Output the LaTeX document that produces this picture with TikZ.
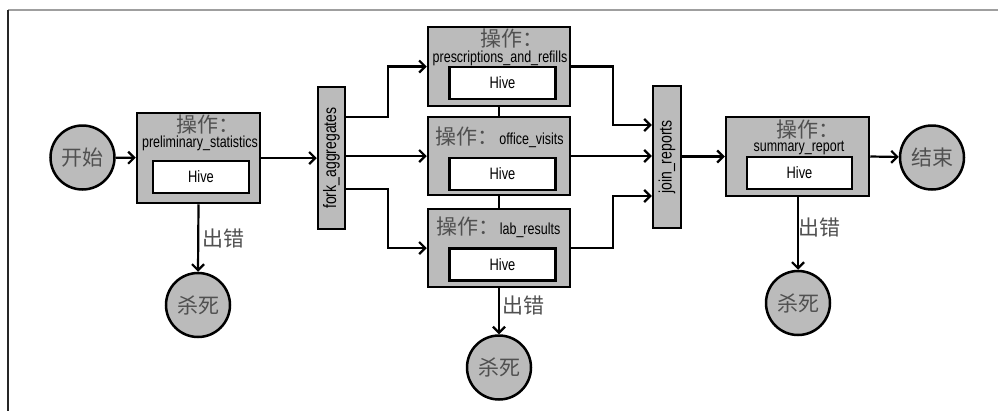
\documentclass[tikz,border=0pt]{standalone}
\usepackage{fontspec}
\setmainfont[FakeStretch=0.78]{Liberation Sans}
\newfontfamily\cjk[RawFeature=+halt]{Noto Sans CJK SC}
\newfontfamily\cjkfull{Noto Sans CJK SC}
\usetikzlibrary{arrows.meta}
\definecolor{boxgray}{HTML}{BBBBBB}
\definecolor{cjkgray}{HTML}{505050}
\newcommand{\cjkfont}{\cjk\fontsize{21bp}{23bp}\selectfont}
\newcommand{\cjkfullfont}{\cjkfull\fontsize{21bp}{23bp}\selectfont}
\newcommand{\namefont}{\fontsize{16bp}{18bp}\selectfont}
\tikzset{
  opbox/.style={draw, line width=2.5bp, fill=boxgray, inner sep=0pt},
  hivebox/.style={draw, line width=2.5bp, fill=white, inner sep=0pt, minimum width=106bp, minimum height=32bp, font=\fontsize{16.5bp}{18bp}\selectfont},
  bar/.style={draw, line width=2.5bp, fill=boxgray, inner sep=0pt, minimum width=27bp, minimum height=142bp},
  bartext/.style={rotate=90, inner sep=0pt, font=\fontsize{18bp}{20bp}\selectfont},
  ctrl/.style={circle, draw, line width=2.5bp, fill=boxgray, minimum size=64bp, inner sep=0pt, text=cjkgray, font=\cjk\fontsize{21bp}{23bp}\selectfont},
  cjklbl/.style={anchor=base, inner sep=0pt, text height=0.78em, text depth=0pt, text=cjkgray, font=\cjkfont},
  cjkinline/.style={cjklbl, font=\cjkfullfont},
  namelbl/.style={anchor=base, inner sep=0pt, text height=0.6em, text depth=0.2em, font=\namefont},
  errlbl/.style={inner sep=0pt, text=cjkgray, font=\cjkfont},
  arr/.style={line width=2.2bp, -{Straight Barb[length=6bp,width=12bp,line width=2.2bp]}},
  link/.style={line width=2.2bp}
}
\begin{document}
\begin{tikzpicture}[x=1bp,y=-1bp]
\useasboundingbox (0,0) rectangle (998,411);
\fill[white] (0,0) rectangle (998,411);
% frame
\coordinate (ftl) at (8,10);
\coordinate (ftr) at (998,10);
\coordinate (fbl) at (8,411);
\draw[gray!75, line width=1.6bp] (ftl) -- (ftr);
\draw[black!85, line width=1.6bp] (ftl) -- (fbl);

% control nodes
\node[ctrl] (start) at (82.5,157.5) {开始};
\node[ctrl] (end) at (932,157.5) {结束};
\node[ctrl] (kill1) at (198,305) {杀死};
\node[ctrl] (kill2) at (499,367.5) {杀死};
\node[ctrl] (kill3) at (798,303) {杀死};

% action boxes
\node[opbox, minimum width=123bp, minimum height=90bp] (prelim) at (198.5,158) {};
\node[opbox, minimum width=142bp, minimum height=79bp] (presc) at (499,66.5) {};
\node[opbox, minimum width=142bp, minimum height=78bp] (office) at (499,156) {};
\node[opbox, minimum width=142bp, minimum height=78bp] (lab) at (499,248) {};
\node[opbox, minimum width=143bp, minimum height=79bp] (summ) at (797.5,156.5) {};

% hive boxes
\node[hivebox, minimum width=96bp] (h1) at (201,177) {Hive};
\node[hivebox] (h2) at (502.5,83) {Hive};
\node[hivebox] (h3) at (502.5,174) {Hive};
\node[hivebox] (h4) at (502.5,264.5) {Hive};
\node[hivebox, minimum width=105bp] (h5) at (799.5,173) {Hive};

% labels inside action boxes
\node[cjklbl] (t1a) at (203,132.5) {操作：};
\node[namelbl] (t1b) at (200,147) {preliminary\_statistics};
\node[cjklbl] (t2a) at (507,46) {操作：};
\node[namelbl] (t2b) at (500,62) {prescriptions\_and\_refills};
\node[cjkinline] (t3a) at (467,144) {操作：};
\node[namelbl, anchor=base west] (t3b) at ([xshift=0.5bp]t3a.base east) {office\_visits};
\node[cjkinline] (t4a) at (467.5,234.5) {操作：};
\node[namelbl, anchor=base west] (t4b) at ([xshift=0.5bp]t4a.base east) {lab\_results};
\node[cjklbl] (t5a) at (803,137) {操作：};
\node[namelbl] (t5b) at (799,151) {summary\_report};

% fork / join bars
\node[bar] (fork) at (331.5,158) {};
\node[bartext] (forkt) at (fork) {fork\_aggregates};
\node[bar, minimum width=28bp] (join) at (667,157) {};
\node[bartext] (joint) at (join) {join\_reports};

% connectors
\draw[arr] (start) -- (prelim);
\draw[arr] (prelim.east) -- (prelim.east -| fork.west);
\coordinate (f1) at (fork.east |- 0,117);
\coordinate (f3) at (fork.east |- 0,189);
\draw[arr] (f1) -- ++(42,0) |- (presc.west);
\draw[arr] (fork.east |- office.west) -- (office.west);
\draw[arr] (f3) -- ++(42,0) |- (lab.west);

\coordinate (j1) at (join.west |- 0,125);
\coordinate (j3) at (join.west |- 0,196);
\draw[arr] (presc.east) -- ++(42,0) |- (j1);
\draw[arr] (office.east) -- (office.east -| join.west);
\draw[arr] (lab.east) -- ++(42,0) |- (j3);

\draw[arr] (join.east |- summ.west) -- (summ.west);
\draw[arr] (summ.east) -- (end);

\draw[link] (presc.south) -- (office.north);
\draw[link] (office.south) -- (lab.north);

\draw[arr] (prelim.south) -- (kill1.north);
\draw[arr] (lab.south) -- (kill2.north);
\draw[arr] (summ.south -| kill3.north) -- (kill3.north);

\node[errlbl] (e1) at (223,238) {出错};
\node[errlbl] (e2) at (523,305) {出错};
\node[errlbl] (e3) at (819,227) {出错};
\end{tikzpicture}
\end{document}
